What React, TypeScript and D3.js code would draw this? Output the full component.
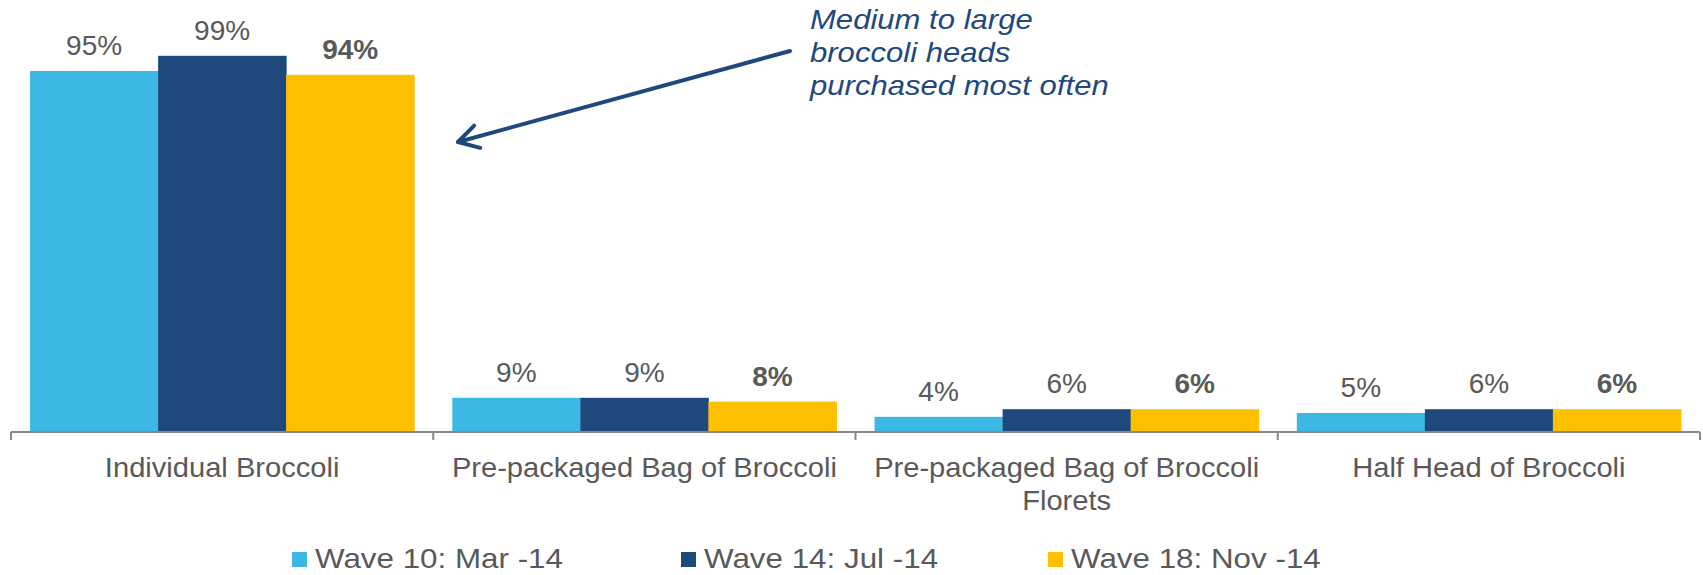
import React from "react";
import * as d3 from "d3";

const categories = [
  ["Individual Broccoli"],
  ["Pre-packaged Bag of Broccoli"],
  ["Pre-packaged Bag of Broccoli", "Florets"],
  ["Half Head of Broccoli"],
];
const seriesNames = ["Wave 10: Mar -14", "Wave 14: Jul -14", "Wave 18: Nov -14"];
const wave10 = [95, 9, 4, 5];
const wave14 = [99, 9, 6, 6];
const wave18 = [94, 8, 6, 6];
const seriesValues = [wave10, wave14, wave18];
const seriesColors = ["#3DB7E4", "#1F497D", "#FFC000"];
const seriesBold = [false, false, true];
const annotationLines = ["Medium to large", "broccoli heads", "purchased most often"];

const W = 1703;
const H = 575;
const FONT = "'Liberation Sans', Arial, sans-serif";
const GRAY = "#595959";

export default function App() {
  const catKeys = categories.map((_, i) => String(i));
  const x = d3.scaleBand<string>().domain(catKeys).range([11, 1700]).paddingInner(0).paddingOuter(0);
  const xi = d3
    .scaleBand<string>()
    .domain(seriesNames)
    .range([0, x.bandwidth()])
    .paddingInner(0)
    .paddingOuter(0.149);
  const y = d3.scaleLinear().domain([0, 100]).range([432, 52]);
  const y0 = y(0);

  const tickXs = [...catKeys.map((k) => x(k) as number), 1700];

  // arrow
  const start = [790, 51];
  const tip = [458, 142];
  const ang = Math.atan2(start[1] - tip[1], start[0] - tip[0]);
  const hl = 23;
  const ha = (30 * Math.PI) / 180;
  const w1 = [tip[0] + hl * Math.cos(ang - ha), tip[1] + hl * Math.sin(ang - ha)];
  const w2 = [tip[0] + hl * Math.cos(ang + ha), tip[1] + hl * Math.sin(ang + ha)];
  const line = d3.line();

  const legendX = [292, 681, 1048];

  return (
    <svg
      width={W}
      height={H}
      style={{ position: "absolute", left: 0, top: 0, background: "#fff" }}
      fontFamily={FONT}
    >
      <rect width={W} height={H} fill="#fff" />
      {/* bars */}
      {seriesNames.map((s, si) =>
        catKeys.map((k, ci) => {
          const v = seriesValues[si][ci];
          const bx = (x(k) as number) + (xi(s) as number);
          return (
            <rect
              key={s + k}
              x={bx}
              y={y(v)}
              width={xi.bandwidth() + 0.5}
              height={y0 - y(v)}
              fill={seriesColors[si]}
            />
          );
        })
      )}
      {/* value labels */}
      {seriesNames.map((s, si) =>
        catKeys.map((k, ci) => {
          const v = seriesValues[si][ci];
          const cx = (x(k) as number) + (xi(s) as number) + xi.bandwidth() / 2;
          return (
            <text
              key={"l" + s + k}
              x={cx}
              y={y(v) - 16}
              textAnchor="middle"
              fontSize={28}
              fontWeight={seriesBold[si] ? "bold" : "normal"}
              fill={GRAY}
            >
              {v + "%"}
            </text>
          );
        })
      )}
      {/* axis */}
      <line x1={11} x2={1700} y1={y0} y2={y0} stroke="#898989" strokeWidth={2} />
      {tickXs.map((tx, i) => (
        <line key={"t" + i} x1={tx} x2={tx} y1={y0} y2={y0 + 8} stroke="#898989" strokeWidth={2} />
      ))}
      {/* category labels */}
      {categories.map((lines, ci) => {
        const cx = (x(String(ci)) as number) + x.bandwidth() / 2;
        return lines.map((ln, li) => (
          <g key={"c" + ci + li} transform={`translate(${cx},${477 + li * 33}) scale(1.04,1)`}>
            <text x={0} y={0} textAnchor="middle" fontSize={28} fill={GRAY}>
              {ln}
            </text>
          </g>
        ));
      })}
      {/* legend */}
      {seriesNames.map((s, si) => (
        <g key={"lg" + si}>
          <rect x={legendX[si]} y={552} width={15} height={15} fill={seriesColors[si]} />
          <g transform={`translate(${legendX[si] + 23},568) scale(1.12,1)`}>
            <text x={0} y={0} fontSize={28} fill={GRAY}>
              {s}
            </text>
          </g>
        </g>
      ))}
      {/* annotation */}
      {annotationLines.map((ln, i) => (
        <g key={"a" + i} transform={`translate(810,${29 + i * 33}) scale(1.13,1)`}>
          <text x={0} y={0} fontSize={27.5} fontStyle="italic" fill="#1F497D">
            {ln}
          </text>
        </g>
      ))}
      <path
        d={line([start as [number, number], tip as [number, number]]) || ""}
        stroke="#1F497D"
        strokeWidth={4}
        fill="none"
        strokeLinecap="round"
      />
      <path
        d={line([w1 as [number, number], tip as [number, number], w2 as [number, number]]) || ""}
        stroke="#1F497D"
        strokeWidth={4}
        fill="none"
        strokeLinecap="round"
        strokeLinejoin="round"
      />
    </svg>
  );
}
